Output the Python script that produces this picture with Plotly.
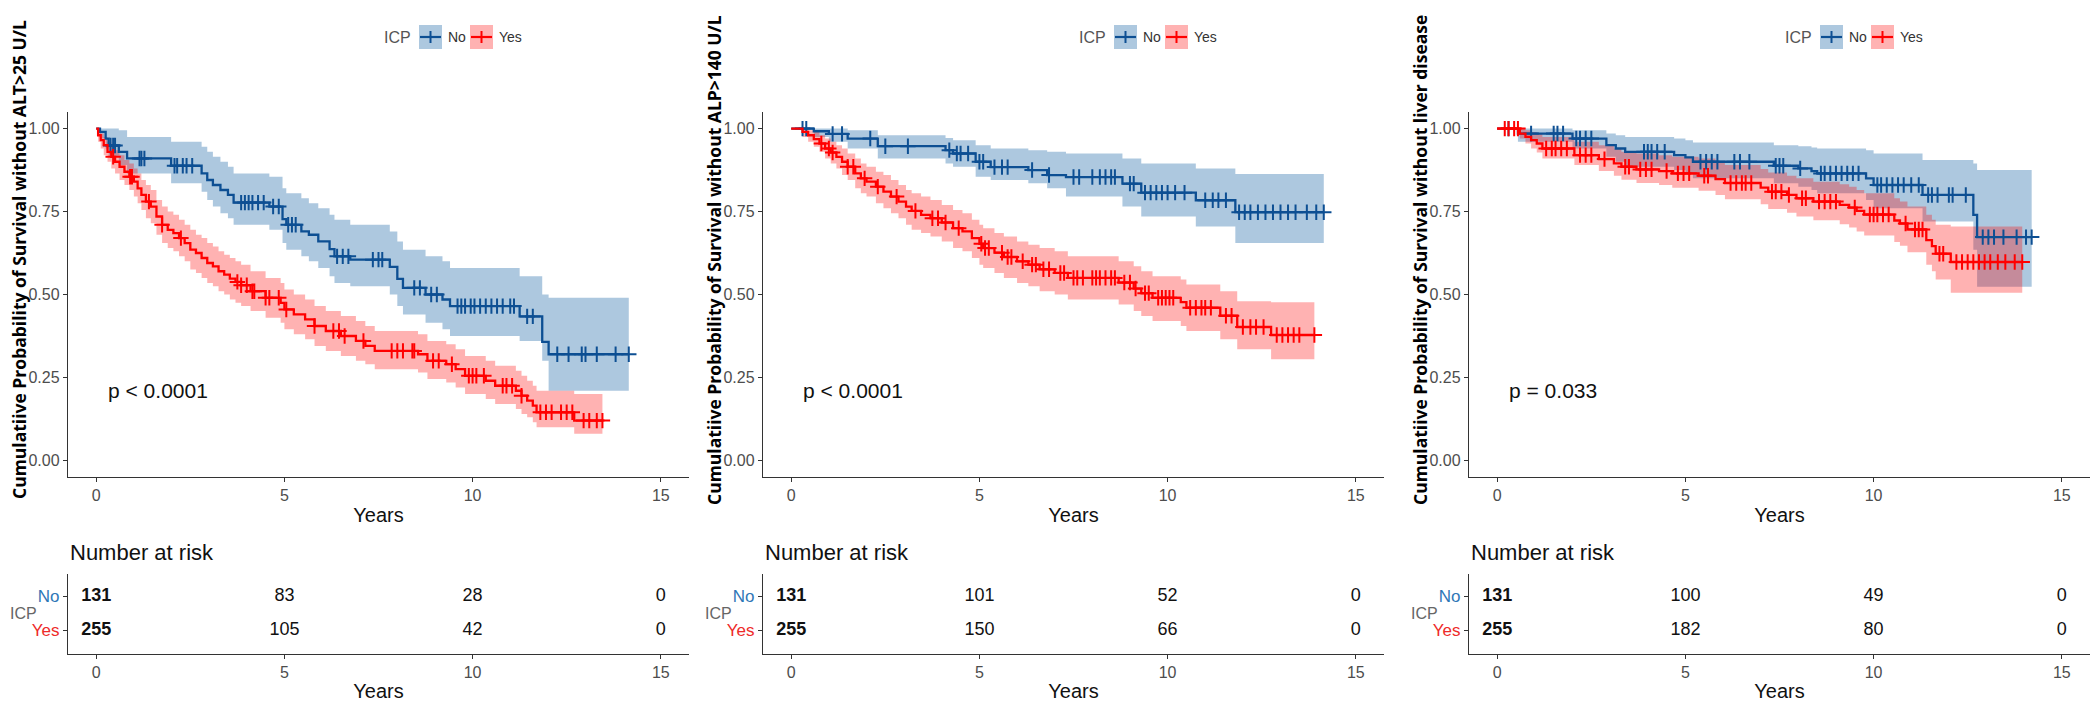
import numpy as np
import plotly.graph_objects as go

# ---------------- DATA ----------------
# Panel 1: ALT>25 U/L
p1_no_t = [0, 0.1, 0.25, 0.33, 0.6, 0.82, 1.99, 2.8, 2.95, 3.1, 3.3, 3.5, 3.65, 4.6, 4.95, 5.05, 5.45, 5.65, 5.9, 6.2,
           6.33, 6.75, 7.8, 8.0, 8.15, 8.75, 9.2, 9.4, 11.25, 11.85, 12.02]
p1_no_s = [1.0, 0.99, 0.97, 0.949, 0.93, 0.91, 0.888, 0.865, 0.845, 0.83, 0.815, 0.8, 0.777, 0.765, 0.727, 0.71, 0.69,
           0.68, 0.66, 0.637, 0.615, 0.605, 0.583, 0.547, 0.52, 0.50, 0.485, 0.465, 0.434, 0.357, 0.32]
p1_no_hi = [1.0, 1.0, 1.0, 1.0, 0.995, 0.975, 0.96, 0.945, 0.93, 0.915, 0.9, 0.885, 0.865, 0.855, 0.82, 0.805, 0.79,
            0.775, 0.76, 0.74, 0.725, 0.71, 0.69, 0.66, 0.635, 0.615, 0.6, 0.58, 0.555, 0.5, 0.49]
p1_no_lo = [1.0, 0.97, 0.94, 0.915, 0.89, 0.865, 0.835, 0.81, 0.785, 0.765, 0.745, 0.73, 0.71, 0.695, 0.655, 0.635,
            0.615, 0.6, 0.58, 0.555, 0.535, 0.525, 0.5, 0.465, 0.44, 0.415, 0.395, 0.375, 0.36, 0.3, 0.21]
p1_no_cens = [0.38, 0.45, 0.5, 1.15, 1.2, 1.28, 2.08, 2.15, 2.3, 2.4, 2.55, 3.85, 3.95, 4.05, 4.15, 4.3, 4.45, 4.7,
              4.85, 5.1, 5.2, 5.3, 6.4, 6.55, 6.7, 7.35, 7.5, 7.6, 8.45, 8.6, 8.9, 9.05, 9.6, 9.7, 9.8, 9.95, 10.05,
              10.2, 10.35, 10.5, 10.65, 10.8, 11.0, 11.1, 11.45, 11.6, 12.25, 12.55, 12.9, 13.0, 13.3, 13.8, 14.15]

p1_yes_t = [0, 0.05, 0.12, 0.2, 0.3, 0.4, 0.5, 0.62, 0.75, 0.88, 1.0, 1.1, 1.2, 1.32, 1.45, 1.6, 1.75, 1.9, 2.05, 2.2,
            2.35, 2.5, 2.65, 2.8, 2.95, 3.1, 3.25, 3.4, 3.55, 3.7, 3.85, 4.1, 4.5, 4.9, 5.0, 5.25, 5.55, 5.8, 6.1, 6.5,
            6.9, 7.15, 7.4, 8.55, 8.8, 9.3, 9.55, 9.8, 10.35, 10.6, 11.15, 11.3, 11.45, 11.6, 11.7, 12.7]
p1_yes_s = [1.0, 0.98, 0.965, 0.95, 0.93, 0.915, 0.9, 0.885, 0.87, 0.855, 0.84, 0.82, 0.80, 0.78, 0.765, 0.735, 0.71,
            0.695, 0.685, 0.67, 0.655, 0.635, 0.625, 0.61, 0.595, 0.585, 0.57, 0.56, 0.548, 0.538, 0.528, 0.51, 0.49,
            0.475, 0.455, 0.44, 0.425, 0.405, 0.39, 0.375, 0.36, 0.345, 0.33, 0.32, 0.30, 0.29, 0.275, 0.255, 0.24,
            0.225, 0.21, 0.195, 0.18, 0.165, 0.145, 0.12]
p1_yes_hi = [1.0, 1.0, 0.985, 0.975, 0.96, 0.945, 0.935, 0.92, 0.905, 0.895, 0.88, 0.865, 0.845, 0.83, 0.815, 0.785,
             0.765, 0.75, 0.74, 0.725, 0.71, 0.695, 0.68, 0.67, 0.655, 0.645, 0.63, 0.62, 0.61, 0.6, 0.59, 0.57, 0.55,
             0.535, 0.515, 0.5, 0.485, 0.465, 0.45, 0.435, 0.42, 0.405, 0.39, 0.38, 0.36, 0.35, 0.335, 0.315, 0.3,
             0.285, 0.27, 0.255, 0.24, 0.225, 0.21, 0.2]
p1_yes_lo = [1.0, 0.96, 0.94, 0.92, 0.9, 0.88, 0.865, 0.845, 0.83, 0.815, 0.795, 0.775, 0.755, 0.73, 0.715, 0.68,
             0.655, 0.64, 0.63, 0.615, 0.6, 0.575, 0.565, 0.55, 0.535, 0.525, 0.51, 0.5, 0.485, 0.475, 0.465, 0.45,
             0.43, 0.415, 0.395, 0.38, 0.365, 0.345, 0.33, 0.315, 0.3, 0.29, 0.275, 0.265, 0.245, 0.235, 0.22, 0.2,
             0.185, 0.17, 0.155, 0.14, 0.13, 0.115, 0.1, 0.08]
p1_yes_cens = [0.45, 0.9, 0.95, 1.4, 1.75, 2.25, 3.75, 3.85, 4.0, 4.15, 4.2, 4.5, 4.6, 4.85, 5.05, 5.8, 6.3, 6.45, 6.6,
               7.1, 7.85, 8.0, 8.15, 8.4, 8.45, 8.95, 9.1, 9.45, 9.9, 10.0, 10.1, 10.3, 10.8, 10.9, 11.05, 11.3, 11.8,
               11.95, 12.1, 12.35, 12.5, 12.65, 12.95, 13.1, 13.3, 13.45]

# Panel 2: ALP>140 U/L
p2_no_t = [0, 0.6, 1.0, 1.5, 2.3, 4.1, 4.3, 4.9, 5.3, 6.3, 6.8, 7.3, 8.8, 9.3, 10.75, 11.8]
p2_no_s = [1.0, 0.992, 0.984, 0.97, 0.947, 0.935, 0.925, 0.90, 0.884, 0.875, 0.86, 0.854, 0.834, 0.807, 0.784, 0.748]
p2_no_hi = [1.0, 1.0, 1.0, 0.995, 0.98, 0.972, 0.965, 0.95, 0.94, 0.935, 0.93, 0.925, 0.91, 0.895, 0.88, 0.863]
p2_no_lo = [1.0, 0.975, 0.96, 0.94, 0.91, 0.895, 0.885, 0.855, 0.845, 0.835, 0.82, 0.795, 0.765, 0.735, 0.705, 0.655]
p2_no_cens = [0.3, 0.4, 1.1, 1.35, 2.1, 2.5, 3.1, 4.2, 4.4, 4.5, 4.7, 5.0, 5.1, 5.4, 5.6, 5.75, 6.4, 6.85, 7.5, 7.65,
              8.0, 8.2, 8.35, 8.5, 8.6, 9.0, 9.1, 9.4, 9.55, 9.7, 9.85, 10.0, 10.2, 10.45, 11.0, 11.2, 11.35, 11.55,
              11.9, 12.05, 12.2, 12.4, 12.6, 12.8, 13.0, 13.2, 13.4, 13.7, 13.95, 14.15]

p2_yes_t = [0, 0.3, 0.45, 0.6, 0.75, 0.9, 1.05, 1.2, 1.35, 1.5, 1.7, 1.85, 2.0, 2.25, 2.45, 2.65, 2.85, 3.05, 3.2, 3.45,
            3.7, 4.0, 4.3, 4.55, 4.8, 5.0, 5.1, 5.4, 5.65, 6.0, 6.3, 6.6, 7.0, 7.35, 8.7, 9.1, 9.3, 9.6, 10.35, 10.5,
            11.4, 11.85, 12.75]
p2_yes_s = [1.0, 0.99, 0.98, 0.968, 0.955, 0.94, 0.928, 0.915, 0.9, 0.885, 0.865, 0.85, 0.84, 0.825, 0.81, 0.795, 0.78,
            0.765, 0.752, 0.74, 0.73, 0.717, 0.70, 0.69, 0.67, 0.653, 0.64, 0.626, 0.613, 0.60, 0.59, 0.576, 0.565,
            0.55, 0.536, 0.518, 0.504, 0.49, 0.477, 0.46, 0.436, 0.402, 0.378]
p2_yes_hi = [1.0, 1.0, 0.995, 0.99, 0.98, 0.97, 0.96, 0.95, 0.94, 0.925, 0.91, 0.895, 0.885, 0.87, 0.86, 0.845, 0.83,
             0.815, 0.805, 0.795, 0.785, 0.77, 0.755, 0.745, 0.725, 0.71, 0.7, 0.685, 0.675, 0.66, 0.65, 0.64, 0.63,
             0.615, 0.6, 0.585, 0.57, 0.555, 0.545, 0.53, 0.51, 0.48, 0.477]
p2_yes_lo = [1.0, 0.975, 0.96, 0.945, 0.93, 0.91, 0.895, 0.88, 0.86, 0.845, 0.82, 0.805, 0.795, 0.775, 0.76, 0.745,
             0.73, 0.71, 0.695, 0.685, 0.675, 0.66, 0.64, 0.63, 0.61, 0.59, 0.58, 0.565, 0.55, 0.535, 0.525, 0.51, 0.5,
             0.485, 0.47, 0.45, 0.435, 0.42, 0.405, 0.39, 0.365, 0.335, 0.305]
p2_yes_cens = [0.8, 1.0, 1.1, 1.5, 1.65, 1.95, 2.3, 2.8, 3.3, 3.75, 3.9, 4.1, 4.45, 5.05, 5.15, 5.25, 5.6, 5.75, 5.85,
               6.15, 6.4, 6.5, 6.7, 6.85, 7.15, 7.25, 7.5, 7.6, 7.75, 8.0, 8.1, 8.2, 8.35, 8.5, 8.6, 8.85, 9.0, 9.15,
               9.4, 9.5, 9.75, 9.85, 9.95, 10.05, 10.15, 10.6, 10.75, 10.9, 11.0, 11.15, 11.55, 11.7, 12.0, 12.2,
               12.35, 12.55, 12.9, 13.05, 13.2, 13.35, 13.5, 13.9]

# Panel 3: liver disease
p3_no_t = [0, 0.55, 2.0, 2.9, 3.15, 3.4, 4.7, 5.0, 5.2, 7.35, 8.0, 8.35, 8.5, 9.8, 10.0, 11.3, 12.65, 12.75]
p3_no_s = [1.0, 0.985, 0.97, 0.95, 0.94, 0.93, 0.92, 0.913, 0.90, 0.888, 0.88, 0.872, 0.865, 0.85, 0.83, 0.80, 0.74,
           0.673]
p3_no_hi = [1.0, 1.0, 0.995, 0.985, 0.98, 0.975, 0.97, 0.965, 0.958, 0.95, 0.947, 0.943, 0.94, 0.935, 0.925, 0.905,
            0.895, 0.875]
p3_no_lo = [1.0, 0.96, 0.94, 0.915, 0.9, 0.885, 0.875, 0.865, 0.85, 0.835, 0.825, 0.815, 0.805, 0.785, 0.76, 0.72,
            0.635, 0.523]
p3_no_cens = [0.3, 0.9, 1.5, 1.6, 1.75, 2.1, 2.2, 2.35, 2.5, 3.9, 4.0, 4.1, 4.25, 4.45, 5.4, 5.55, 5.7, 5.85, 6.3,
              6.45, 6.7, 7.4, 7.5, 7.6, 8.05, 8.6, 8.7, 8.85, 9.0, 9.15, 9.3, 9.45, 9.6, 10.1, 10.2, 10.35, 10.5,
              10.65, 10.8, 11.0, 11.2, 11.45, 11.55, 11.7, 12.0, 12.1, 12.45, 12.9, 13.05, 13.2, 13.45, 13.8, 14.05,
              14.2]

p3_yes_t = [0, 0.6, 0.75, 0.9, 1.05, 1.2, 2.05, 2.7, 3.1, 3.3, 3.7, 4.3, 4.65, 5.35, 5.8, 6.05, 7.0, 7.2, 7.7, 7.95,
            8.4, 9.1, 9.35, 9.55, 9.75, 10.55, 10.7, 10.9, 11.4, 11.55, 11.65, 12.05]
p3_yes_s = [1.0, 0.985, 0.975, 0.965, 0.955, 0.94, 0.92, 0.908, 0.895, 0.885, 0.877, 0.872, 0.865, 0.858, 0.848,
            0.836, 0.822, 0.81, 0.80, 0.79, 0.78, 0.77, 0.762, 0.752, 0.741, 0.723, 0.714, 0.696, 0.664, 0.646, 0.623,
            0.598]
p3_yes_hi = [1.0, 1.0, 0.995, 0.99, 0.985, 0.975, 0.96, 0.95, 0.94, 0.93, 0.925, 0.92, 0.915, 0.91, 0.9, 0.89, 0.878,
             0.868, 0.858, 0.85, 0.84, 0.832, 0.825, 0.815, 0.805, 0.79, 0.78, 0.765, 0.74, 0.725, 0.71, 0.705]
p3_yes_lo = [1.0, 0.97, 0.955, 0.94, 0.928, 0.91, 0.89, 0.872, 0.858, 0.846, 0.836, 0.83, 0.822, 0.813, 0.8, 0.787,
             0.772, 0.758, 0.746, 0.735, 0.724, 0.712, 0.702, 0.69, 0.678, 0.658, 0.647, 0.627, 0.59, 0.57, 0.545,
             0.505]
p3_yes_cens = [0.2, 0.3, 0.45, 0.55, 1.3, 1.45, 1.55, 1.7, 1.85, 2.2, 2.35, 2.5, 2.85, 3.4, 3.5, 3.8, 3.95, 4.1, 4.5,
               4.8, 4.95, 5.1, 5.5, 5.6, 6.2, 6.35, 6.5, 6.6, 6.75, 7.3, 7.4, 7.55, 7.75, 8.1, 8.2, 8.55, 8.7, 8.85,
               9.0, 9.5, 9.9, 10.0, 10.1, 10.25, 10.4, 10.85, 11.1, 11.2, 11.3, 11.75, 11.85, 12.2, 12.35, 12.5, 12.65,
               12.8, 12.95, 13.1, 13.3, 13.5, 13.75, 13.95]

# Risk tables
risk_times = [0, 5, 10, 15]
p1_risk_no = [131, 83, 28, 0]
p1_risk_yes = [255, 105, 42, 0]
p2_risk_no = [131, 101, 52, 0]
p2_risk_yes = [255, 150, 66, 0]
p3_risk_no = [131, 100, 49, 0]
p3_risk_yes = [255, 182, 80, 0]

pvalues = ["p < 0.0001", "p < 0.0001", "p = 0.033"]
y_titles = ["Cumulatiive Probability of Survival without ALT>25 U/L",
            "Cumulatiive Probability of Survival without ALP>140 U/L",
            "Cumulatiive Probability of Survival without liver disease"]
groups = ["No", "Yes"]
legend_title = "ICP"
x_ticks = [0, 5, 10, 15]
y_ticks = [0, 0.25, 0.5, 0.75, 1.0]
y_ticklabels = ["0.00", "0.25", "0.50", "0.75", "1.00"]

# ---------------- STYLE ----------------
W, H = 2100, 703
BLUE = "#0D4F93"
RED = "#FF0000"
BLUE_FILL = "rgba(40,110,170,0.38)"
RED_FILL = "rgba(255,0,0,0.30)"
BLUE_TXT = "#2F77B7"
RED_TXT = "#EE2A2A"
AX = "#333333"
SANS = "Liberation Sans, Arial, sans-serif"
TICK_FONT = dict(family=SANS, size=16, color="#4D4D4D")
TITLE_FONT = dict(family=SANS, size=20, color="#111111")

panel_axis_x = [60, 755, 1461]   # px of left y-axis line
panel_width = 621
main_top, main_bot = 104, 469
tab_top, tab_bot = 566, 646


def px(xp):
    return xp / W


def py(yp):
    return 1 - yp / H


panels = [
    dict(no=(p1_no_t, p1_no_s, p1_no_lo, p1_no_hi, p1_no_cens),
         yes=(p1_yes_t, p1_yes_s, p1_yes_lo, p1_yes_hi, p1_yes_cens),
         risk=(p1_risk_no, p1_risk_yes)),
    dict(no=(p2_no_t, p2_no_s, p2_no_lo, p2_no_hi, p2_no_cens),
         yes=(p2_yes_t, p2_yes_s, p2_yes_lo, p2_yes_hi, p2_yes_cens),
         risk=(p2_risk_no, p2_risk_yes)),
    dict(no=(p3_no_t, p3_no_s, p3_no_lo, p3_no_hi, p3_no_cens),
         yes=(p3_yes_t, p3_yes_s, p3_yes_lo, p3_yes_hi, p3_yes_cens),
         risk=(p3_risk_no, p3_risk_yes)),
]

fig = go.Figure()


def ext(t, v, t_end):
    t = list(t)
    v = list(v)
    if t_end > t[-1]:
        t.append(t_end)
        v.append(v[-1])
    return t, v


def surv_at(ts, ss, times):
    idx = np.searchsorted(np.asarray(ts), np.asarray(times), side="right") - 1
    return list(np.asarray(ss)[idx])


layout_axes = {}
annotations = []
shapes = []

for i, p in enumerate(panels):
    xm = "x" if i == 0 else f"x{2 * i + 1}"
    ym = "y" if i == 0 else f"y{2 * i + 1}"
    xt = f"x{2 * i + 2}"
    yt = f"y{2 * i + 2}"
    x0 = panel_axis_x[i]
    dom_x = [px(x0), px(x0 + panel_width)]

    # confidence bands
    for key, fillc in (("no", BLUE_FILL), ("yes", RED_FILL)):
        t, s, lo, hi, cens = p[key]
        t_end = max(cens)
        tl, lov = ext(t, lo, t_end)
        th, hiv = ext(t, hi, t_end)
        fig.add_trace(go.Scatter(x=tl, y=lov, mode="lines", line=dict(width=0, shape="hv"),
                                 xaxis=xm, yaxis=ym, showlegend=False, hoverinfo="skip"))
        fig.add_trace(go.Scatter(x=th, y=hiv, mode="lines", line=dict(width=0, shape="hv"),
                                 fill="tonexty", fillcolor=fillc,
                                 xaxis=xm, yaxis=ym, showlegend=False, hoverinfo="skip"))
    # step lines + censor marks
    for key, col, name in (("no", BLUE, "No"), ("yes", RED, "Yes")):
        t, s, lo, hi, cens = p[key]
        t_end = max(cens)
        tt, ss = ext(t, s, t_end)
        fig.add_trace(go.Scatter(x=tt, y=ss, mode="lines", line=dict(color=col, width=2.3, shape="hv"),
                                 xaxis=xm, yaxis=ym, showlegend=False, name=name))
        fig.add_trace(go.Scatter(x=cens, y=surv_at(t, s, cens), mode="markers",
                                 marker=dict(symbol="cross-thin", size=11, line=dict(color=col, width=2)),
                                 xaxis=xm, yaxis=ym, showlegend=False, name=name))

    # risk table numbers
    r_no, r_yes = p["risk"]
    for vals, row in ((r_no, 2), (r_yes, 1)):
        txt = [f"<b>{v}</b>" if j == 0 else str(v) for j, v in enumerate(vals)]
        fig.add_trace(go.Scatter(x=risk_times, y=[row] * len(risk_times), mode="text", text=txt,
                                 textposition="middle center",
                                 textfont=dict(family=SANS, size=18, color="#111111"),
                                 xaxis=xt, yaxis=yt, showlegend=False, hoverinfo="skip"))

    common = dict(showline=True, linecolor=AX, linewidth=1.4, ticks="outside", ticklen=4, tickcolor=AX,
                  tickwidth=1.2, showgrid=False, zeroline=False, tickfont=TICK_FONT)
    xname_m = "xaxis" if i == 0 else f"xaxis{2 * i + 1}"
    yname_m = "yaxis" if i == 0 else f"yaxis{2 * i + 1}"
    layout_axes[xname_m] = dict(domain=dom_x, range=[-0.75, 15.75], tickvals=x_ticks, anchor=ym,
                                title=dict(text="Years", font=TITLE_FONT, standoff=4), **common)
    layout_axes[yname_m] = dict(domain=[py(main_bot), py(main_top)], range=[-0.05, 1.05], tickvals=y_ticks,
                                ticktext=y_ticklabels, anchor=xm, **common)
    layout_axes[f"xaxis{2 * i + 2}"] = dict(domain=dom_x, range=[-0.75, 15.75], tickvals=x_ticks, anchor=yt,
                                            title=dict(text="Years", font=TITLE_FONT, standoff=3), **common)
    layout_axes[f"yaxis{2 * i + 2}"] = dict(domain=[py(tab_bot), py(tab_top)], range=[0.3, 2.65], tickvals=[1, 2],
                                            ticktext=[f"<span style='color:{RED_TXT}'>Yes</span>",
                                                      f"<span style='color:{BLUE_TXT}'>No</span>"],
                                            anchor=xt, **{**common, "tickfont": dict(TICK_FONT, size=17)})

    # y axis title (rotated)
    annotations.append(dict(text=f"<b>{y_titles[i]}</b>", x=px(x0 - 49), y=py(252), xref="paper", yref="paper",
                            textangle=-90, showarrow=False, xanchor="center", yanchor="middle",
                            font=dict(family="Open Sans, sans-serif", size=17.5, color="#000000")))
    # p value
    annotations.append(dict(text=pvalues[i], x=0.27, y=0.21, xref=xm, yref=ym, showarrow=False,
                            xanchor="left", yanchor="middle",
                            font=dict(family=SANS, size=21, color="#111111")))
    # Number at risk
    annotations.append(dict(text="Number at risk", x=px(x0), y=py(544), xref="paper", yref="paper",
                            showarrow=False, xanchor="left", yanchor="middle",
                            font=dict(family=SANS, size=22, color="#111111")))
    # ICP (risk table strata title)
    annotations.append(dict(text=legend_title, x=px(x0 - 60), y=py(605), xref="paper", yref="paper",
                            showarrow=False, xanchor="left", yanchor="middle",
                            font=dict(family=SANS, size=16, color="#666666")))

    # legend (top), drawn as key boxes + labels
    lx = x0 + 322
    ly = 29
    annotations.append(dict(text=legend_title, x=px(lx + 23), y=py(ly), xref="paper", yref="paper",
                            showarrow=False, xanchor="right", yanchor="middle",
                            font=dict(family=SANS, size=16, color="#555555")))
    key_specs = [(lx + 29, BLUE_FILL, BLUE, groups[0]), (lx + 80, RED_FILL, RED, groups[1])]
    for kx, fc, lc, lab in key_specs:
        shapes.append(dict(type="rect", xref="paper", yref="paper", x0=px(kx), x1=px(kx + 23),
                           y0=py(ly + 12), y1=py(ly - 12), fillcolor=fc, line=dict(width=0)))
        shapes.append(dict(type="line", xref="paper", yref="paper", x0=px(kx + 1), x1=px(kx + 22),
                           y0=py(ly), y1=py(ly), line=dict(color=lc, width=2.2)))
        shapes.append(dict(type="line", xref="paper", yref="paper", x0=px(kx + 11.5), x1=px(kx + 11.5),
                           y0=py(ly - 6), y1=py(ly + 6), line=dict(color=lc, width=2)))
        annotations.append(dict(text=lab, x=px(kx + 27), y=py(ly), xref="paper", yref="paper",
                                showarrow=False, xanchor="left", yanchor="middle",
                                font=dict(family=SANS, size=14, color="#333333")))

fig.update_layout(width=W, height=H, margin=dict(l=0, r=0, t=0, b=0),
                  paper_bgcolor="white", plot_bgcolor="white", showlegend=False,
                  annotations=annotations, shapes=shapes, **layout_axes)

fig.write_html("out.html")
